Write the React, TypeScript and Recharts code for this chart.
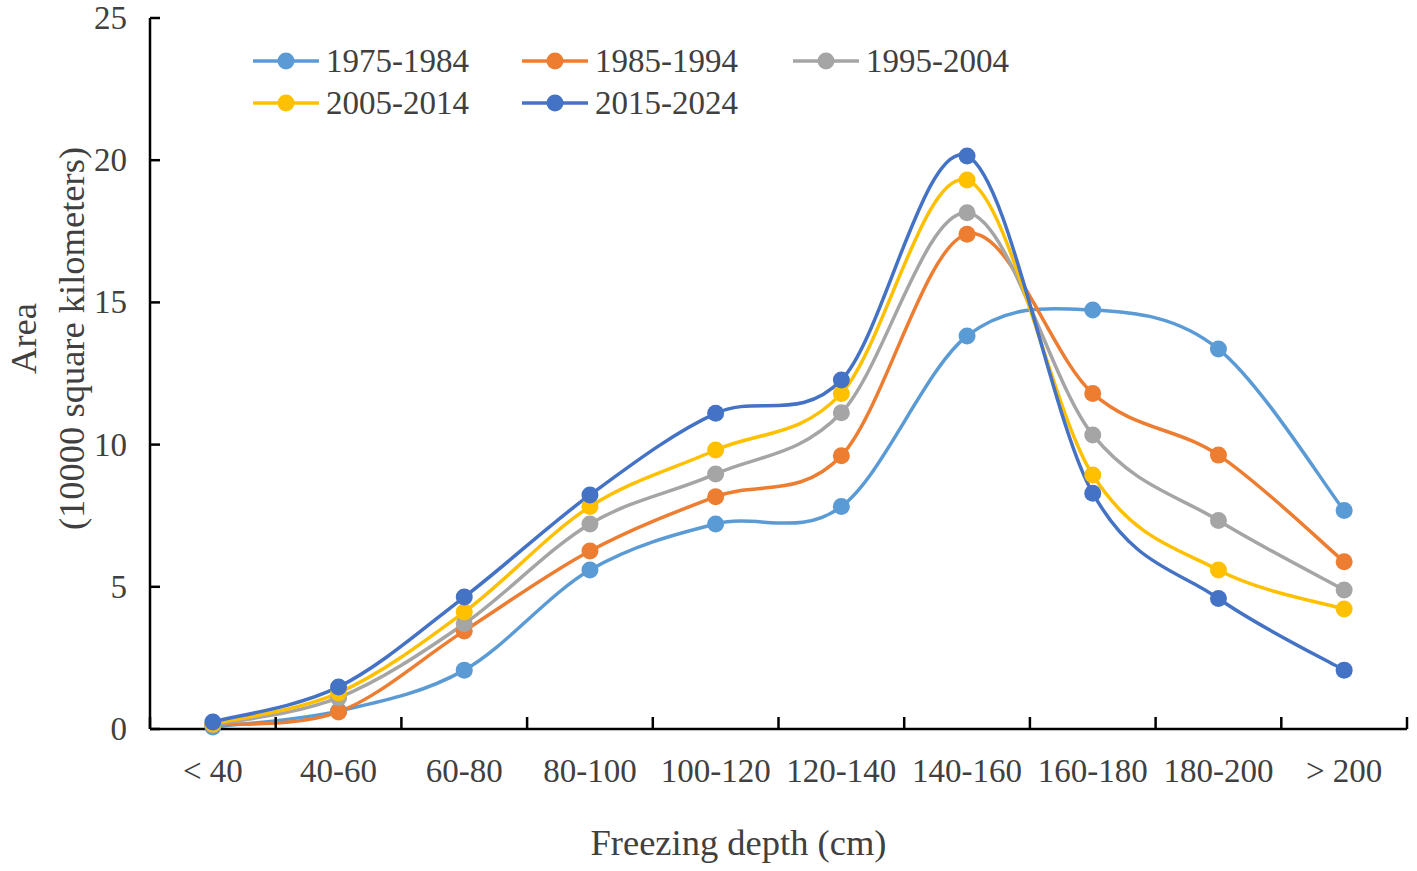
import React from 'react';
import { LineChart, Line, XAxis, YAxis, Legend, Label } from 'recharts';

const categories = ['< 40', '40-60', '60-80', '80-100', '100-120', '120-140', '140-160', '160-180', '180-200', '> 200'];
const seriesNames = ['1975-1984', '1985-1994', '1995-2004', '2005-2014', '2015-2024'];
const seriesColors = ['#5B9BD5', '#ED7D31', '#A5A5A5', '#FFC000', '#4472C4'];

const s1975 = [0.07, 0.63, 2.07, 5.59, 7.21, 7.82, 13.82, 14.73, 13.36, 7.68];
const s1985 = [0.14, 0.6, 3.45, 6.26, 8.17, 9.61, 17.4, 11.8, 9.63, 5.88];
const s1995 = [0.14, 1.1, 3.7, 7.21, 8.97, 11.12, 18.15, 10.34, 7.33, 4.89];
const s2005 = [0.18, 1.27, 4.11, 7.82, 9.81, 11.8, 19.3, 8.93, 5.59, 4.22];
const s2015 = [0.25, 1.48, 4.64, 8.23, 11.1, 12.27, 20.15, 8.29, 4.59, 2.07];

const yTicks = [0, 5, 10, 15, 20, 25];
const xTicks = [0, 0.5, 1, 1.5, 2, 2.5, 3, 3.5, 4, 4.5, 5, 5.5, 6, 6.5, 7, 7.5, 8, 8.5, 9, 9.5, 10];

const allSeries = [s1975, s1985, s1995, s2005, s2015];
const data = categories.map((c, i) => {
  const row: any = { x: i + 0.5, cat: c };
  seriesNames.forEach((n, k) => {
    row[n] = allSeries[k][i];
  });
  return row;
});

const FONT = "'Times New Roman', 'Liberation Serif', 'DejaVu Serif', serif";
const TEXT = '#404040';

// Catmull-Rom style smoothing similar to Excel's smoothed line
function smoothCurve(context: any) {
  let pts: number[][] = [];
  return {
    areaStart() {},
    areaEnd() {},
    lineStart() {
      pts = [];
    },
    point(x: number, y: number) {
      pts.push([+x, +y]);
    },
    lineEnd() {
      const n = pts.length;
      if (!n) return;
      context.moveTo(pts[0][0], pts[0][1]);
      for (let i = 0; i < n - 1; i++) {
        const p0 = pts[i - 1] || pts[i];
        const p1 = pts[i];
        const p2 = pts[i + 1];
        const p3 = pts[i + 2] || p2;
        const c1x = p1[0] + (p2[0] - p0[0]) / 6;
        const c1y = p1[1] + (p2[1] - p0[1]) / 6;
        const c2x = p2[0] - (p3[0] - p1[0]) / 6;
        const c2y = p2[1] - (p3[1] - p1[1]) / 6;
        context.bezierCurveTo(c1x, c1y, c2x, c2y, p2[0], p2[1]);
      }
    },
  };
}

const XTick = (props: any) => {
  const { x, y, payload } = props;
  const v = payload.value;
  if (Number.isInteger(v)) {
    return <line x1={x} y1={y} x2={x} y2={y - 12} stroke="#000" strokeWidth={2.5} />;
  }
  const label = categories[Math.floor(v)];
  return (
    <text x={x} y={y + 53} textAnchor="middle" fontSize={33} fontFamily={FONT} fill={TEXT}>
      {label}
    </text>
  );
};

const YTick = (props: any) => {
  const { x, y, payload } = props;
  return (
    <g>
      <line x1={x} y1={y} x2={x + 10} y2={y} stroke="#000" strokeWidth={2.5} />
      <text x={x - 23} y={y + 11} textAnchor="end" fontSize={33} fontFamily={FONT} fill={TEXT}>
        {payload.value}
      </text>
    </g>
  );
};

const LegendContent = (props: any) => {
  const { payload } = props;
  return (
    <div style={{ display: 'grid', gridTemplateColumns: '269px 271px 270px', gridAutoRows: '42px' }}>
      {(payload || []).map((p: any) => (
        <div key={p.value} style={{ display: 'flex', alignItems: 'center' }}>
          <svg width={66} height={20} style={{ display: 'block' }}>
            <line x1={0} y1={10} x2={66} y2={10} stroke={p.color} strokeWidth={3.5} />
            <circle cx={33} cy={10} r={8.5} fill={p.color} />
          </svg>
          <span style={{ marginLeft: 7, fontSize: 33, fontFamily: FONT, color: TEXT, lineHeight: '42px' }}>{p.value}</span>
        </div>
      ))}
    </div>
  );
};

export default function App() {
  return (
    <div style={{ position: 'absolute', left: 0, top: 0, width: 1417, height: 871, background: '#fff' }}>
      <LineChart width={1417} height={871} data={data} margin={{ top: 18, right: 10, bottom: 0, left: 0 }}>
        <XAxis
          dataKey="x"
          type="number"
          domain={[0, 10]}
          ticks={xTicks}
          interval={0}
          tickLine={false}
          tickSize={0}
          tickMargin={0}
          tick={<XTick />}
          height={142}
          axisLine={{ stroke: '#000', strokeWidth: 2.5 }}
        >
          <Label
            content={(p: any) => {
              const vb = p.viewBox;
              return (
                <text x={vb.x + vb.width / 2 - 40} y={vb.y + 126} textAnchor="middle" fontSize={36.5} fontFamily={FONT} fill={TEXT}>
                  Freezing depth (cm)
                </text>
              );
            }}
          />
        </XAxis>
        <YAxis
          type="number"
          domain={[0, 25]}
          ticks={yTicks}
          interval={0}
          tickLine={false}
          tickSize={0}
          tickMargin={0}
          tick={<YTick />}
          width={150}
          axisLine={{ stroke: '#000', strokeWidth: 2.5 }}
        >
          <Label
            content={(p: any) => {
              const vb = p.viewBox;
              const cy = vb.y + vb.height / 2 - 35;
              return (
                <g>
                  <text x={0} y={0} transform={`translate(36, ${cy}) rotate(-90)`} textAnchor="middle" fontSize={36.5} fontFamily={FONT} fill={TEXT}>
                    Area
                  </text>
                  <text x={0} y={0} transform={`translate(84, ${cy}) rotate(-90)`} textAnchor="middle" fontSize={36.5} fontFamily={FONT} fill={TEXT}>
                    (10000 square kilometers)
                  </text>
                </g>
              );
            }}
          />
        </YAxis>
        <Legend
          layout="horizontal"
          verticalAlign="middle"
          align="center"
          content={<LegendContent />}
          wrapperStyle={{ position: 'absolute', left: 253, top: 40, width: 820, height: 84 }}
        />
        {seriesNames.map((n, k) => (
          <Line
            key={n}
            dataKey={n}
            name={n}
            type={smoothCurve as any}
            stroke={seriesColors[k]}
            strokeWidth={3.5}
            dot={{ r: 8.5, fill: seriesColors[k], stroke: seriesColors[k], strokeWidth: 0 }}
            activeDot={false}
            isAnimationActive={false}
          />
        ))}
      </LineChart>
    </div>
  );
}
